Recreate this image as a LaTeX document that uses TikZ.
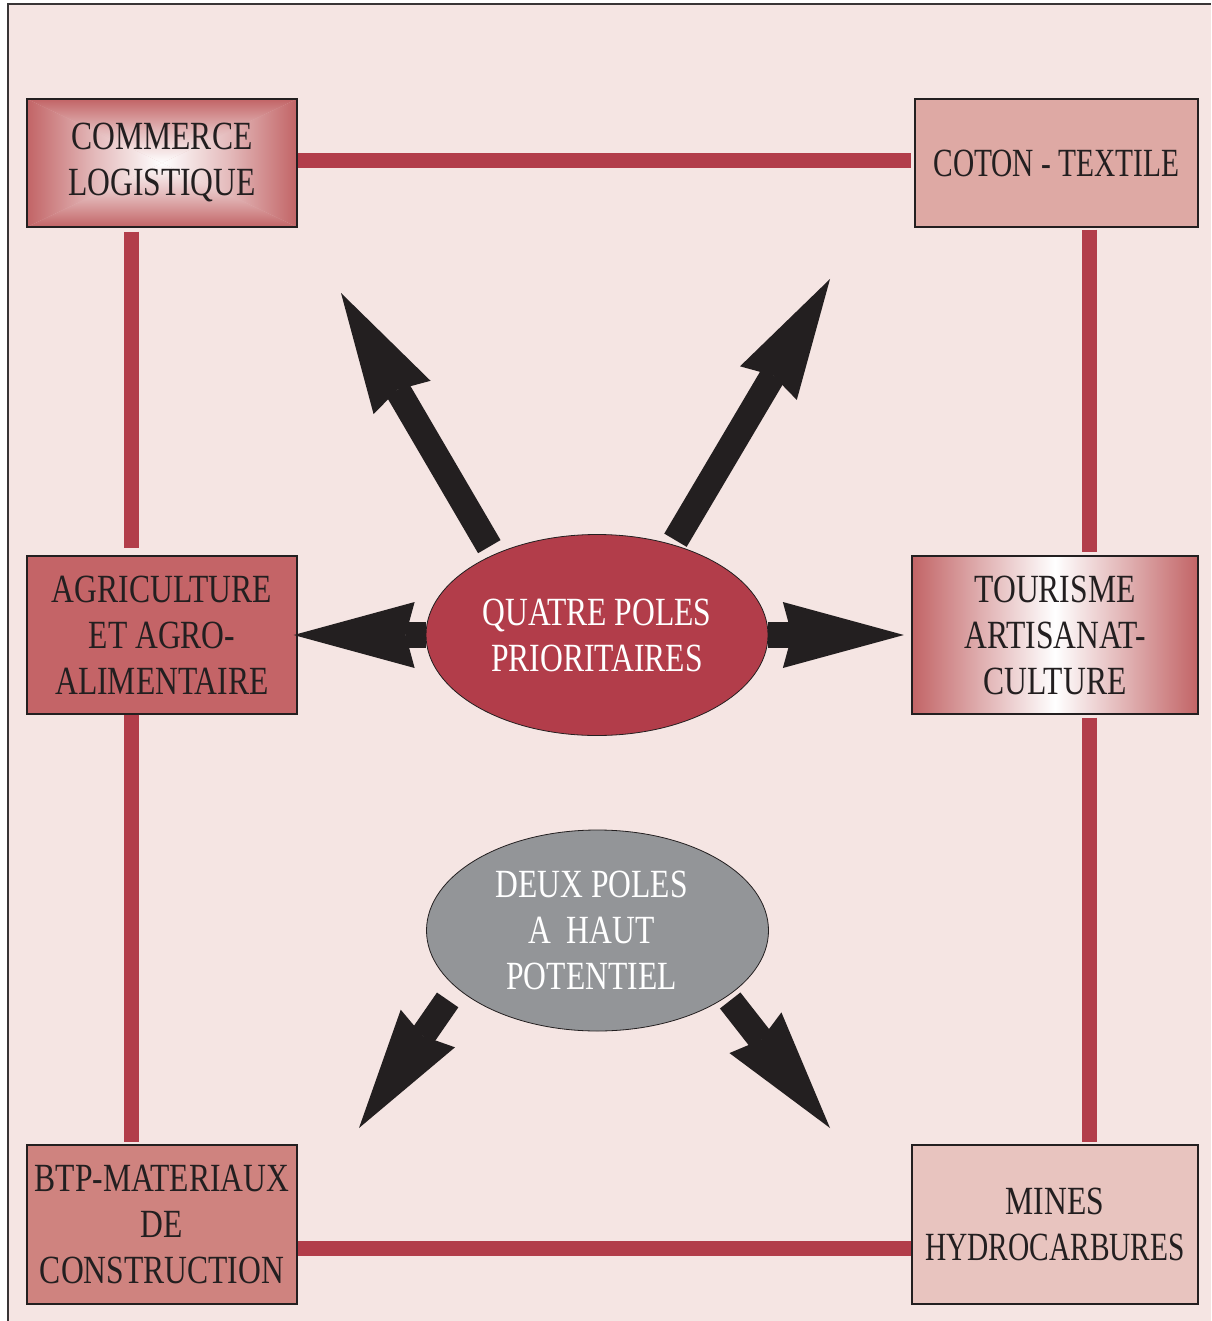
\documentclass[tikz,border=0pt]{standalone}
\usepackage{fontspec}
\setmainfont{Liberation Serif}
\newfontfamily\boxfont[FakeStretch=0.79]{Liberation Serif}
\newfontfamily\narrowfont[FakeStretch=0.735]{Liberation Serif}
\usetikzlibrary{shapes.geometric,arrows.meta,calc}
\definecolor{bgpink}{HTML}{F5E5E3}
\definecolor{barred}{HTML}{B23D4A}
\definecolor{ink}{HTML}{231F20}
\definecolor{glowred}{HTML}{C26466}
\definecolor{agrired}{HTML}{C46467}
\definecolor{cotonpink}{HTML}{DEA9A4}
\definecolor{btpred}{HTML}{CF837F}
\definecolor{minespink}{HTML}{E8C4BF}
\definecolor{polegray}{HTML}{939598}
\begin{document}
\begin{tikzpicture}[x=1pt,y=-1pt,
  box/.style={rectangle,draw=ink,line width=1.3pt,inner sep=0pt,text=ink,align=center,
    font=\boxfont\fontsize{40}{46}\selectfont},
  pole/.style={ellipse,draw=ink,line width=0.8pt,inner sep=0pt,minimum width=342pt,
    minimum height=201pt,text=white,align=center,font=\boxfont\fontsize{40}{46}\selectfont},
  bar/.style={draw=barred,line width=15pt},
  bigarrow/.style={draw=ink,line width=26pt,
    -{Stealth[length=121pt,width=66pt,inset=9pt,line width=0pt]}},
  pyramid/.style={path picture={
    \coordinate (ppc) at (path picture bounding box.center);
    \fill[#1!45!white] (path picture bounding box.north west) rectangle (path picture bounding box.south east);
    \shade[left color=#1,right color=white,middle color=#1!45!white] (path picture bounding box.north west) -- (path picture bounding box.south west) -- (ppc) -- cycle;
    \shade[left color=white,right color=#1,middle color=#1!45!white] (path picture bounding box.north east) -- (path picture bounding box.south east) -- (ppc) -- cycle;
    \shade[top color=#1,bottom color=white,middle color=#1!45!white] (path picture bounding box.north west) -- (path picture bounding box.north east) -- (ppc) -- cycle;
    \shade[top color=white,bottom color=#1,middle color=#1!45!white] (path picture bounding box.south west) -- (path picture bounding box.south east) -- (ppc) -- cycle;
  }}
]
\useasboundingbox (0,0) rectangle (1211,1321);
\fill[white] (0,0) rectangle (1211,1321);
\fill[bgpink] (8,4) rectangle (1211,1321);
\draw[ink!90,line width=2.2pt] (8,1321) -- (8,4) -- (1211,4);

% boxes
\node[box,pyramid=glowred,minimum width=270pt,minimum height=128pt] (cl) at (162,163) {COMMERCE\\LOGISTIQUE};
\node[box,fill=cotonpink,minimum width=283pt,minimum height=128pt,font=\narrowfont\fontsize{40}{46}\selectfont] (ct) at (1056.5,163) {COTON - TEXTILE};
\node[box,fill=agrired,minimum width=270pt,minimum height=158pt] (agri) at (162,635) {AGRICULTURE\\ET AGRO-\\ALIMENTAIRE};
\node[box,left color=glowred,right color=glowred,middle color=white,minimum width=286pt,minimum height=158pt] (tour) at (1055,635) {TOURISME\\ARTISANAT-\\CULTURE};
\node[box,fill=btpred,minimum width=270pt,minimum height=159pt] (btp) at (162,1224.5) {BTP-MATERIAUX\\DE\\CONSTRUCTION};
\node[box,fill=minespink,minimum width=286pt,minimum height=159pt] (mines) at (1055,1224.5) {MINES\\{\narrowfont HYDROCARBURES}};

% connector bars
\coordinate (ty) at (0,160.5);
\coordinate (by) at (0,1248.5);
\coordinate (lx) at (131,0);
\coordinate (rx) at (1089,0);
\draw[bar,shorten >=3pt] (cl.east |- ty) -- (ct.west |- ty);
\draw[bar] (btp.east |- by) -- (mines.west |- by);
\draw[bar,shorten <=4pt,shorten >=7pt] (cl.south -| lx) -- (agri.north -| lx);
\draw[bar,shorten >=2pt] (agri.south -| lx) -- (btp.north -| lx);
\draw[bar,shorten <=2pt,shorten >=3pt] (ct.south -| rx) -- (tour.north -| rx);
\draw[bar,shorten <=3pt,shorten >=2pt] (tour.south -| rx) -- (mines.north -| rx);

% poles
\node[pole,fill=barred] (q) at (597,635) {QUATRE POLES\\PRIORITAIRES};
\node[pole,fill=polegray] (d) at (597.5,930.5) {DEUX POLES\rule{12pt}{0pt}\\A\ \ HAUT\rule{12pt}{0pt}\\POTENTIEL\rule{12pt}{0pt}};

% arrows
\coordinate (a1) at (341,293);
\coordinate (a2) at (830,279);
\coordinate (a5) at (359,1128);
\coordinate (a6) at (830,1128);
\draw[bigarrow,shorten <=9pt] (q.142) -- (a1);
\draw[bigarrow,shorten <=5pt] (q.50) -- (a2);
\draw[bigarrow,shorten >=-4pt] (q.west) -- (agri.east);
\draw[bigarrow,shorten >=7.5pt] (q.east) -- (tour.west);
\draw[bigarrow,shorten <=15pt] (d.202) -- (a5);
\draw[bigarrow,shorten <=5pt] (d.333) -- (a6);
\end{tikzpicture}
\end{document}
